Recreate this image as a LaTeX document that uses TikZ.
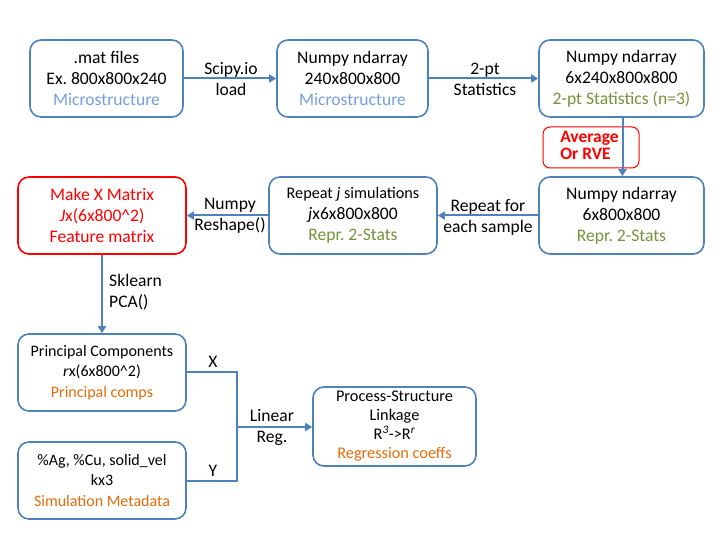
\documentclass[tikz,border=0pt]{standalone}
\usepackage{fontspec}
\setmainfont{Carlito}
\usetikzlibrary{arrows.meta}
\definecolor{bblue}{RGB}{79,129,189}
\definecolor{lblue}{RGB}{118,158,222}
\definecolor{ogreen}{RGB}{118,146,60}
\definecolor{orng}{RGB}{228,108,10}
\definecolor{rred}{RGB}{255,0,0}
\frenchspacing
\tikzset{
  box/.style={draw=bblue, line width=1.6pt, rounded corners=11pt, align=center,
    minimum height=77pt, inner sep=2pt, font=\fontsize{17.6}{21}\selectfont, text=black},
  sbox/.style={box, font=\fontsize{15.5}{20}\selectfont},
  redbox/.style={box, draw=rred, text=rred},
  avgbox/.style={draw=rred, line width=1pt, rounded corners=7pt, align=left,
    minimum width=96pt, minimum height=41pt, text=rred, inner sep=0pt,
    font=\bfseries\fontsize{17.5}{20}\selectfont},
  conn/.style={draw=bblue, line width=2pt, -{Triangle[length=7pt,width=8pt]}},
  plain/.style={draw=bblue, line width=2pt},
  lab/.style={align=center, font=\fontsize{17.6}{21}\selectfont, inner sep=0pt},
}
\begin{document}
\begin{tikzpicture}[x=1pt,y=-1pt]
\useasboundingbox (0,0) rectangle (720,540);
\node[box, minimum width=153pt] (b1) at (106.5,78.5)
  {.mat files\\Ex. 800x800x240\\\textcolor{lblue}{Microstructure}};
\node[box, minimum width=151pt] (b2) at (352.5,78.5)
  {Numpy ndarray\\240x800x800\\\textcolor{lblue}{Microstructure}};
\node[box, minimum width=165pt] (b3) at (621.5,78.5)
  {Numpy ndarray\\6x240x800x800\\\textcolor{ogreen}{2-pt Statistics (n=3)}};
\node[avgbox] (avg) at (591,147.5) {\hspace*{15pt}\begin{tabular}{@{}l@{}}Average\\[-3pt]Or RVE\end{tabular}\hspace*{18pt}};
\node[box, minimum width=165pt] (b4) at (621.5,215.5)
  {Numpy ndarray\\6x800x800\\\textcolor{ogreen}{Repr. 2-Stats}};
\node[box, minimum width=168pt] (b5) at (353,215.5)
  {{\fontsize{16.2}{20}\selectfont Repeat \textit{j} simulations}\\\textit{j}x6x800x800\\\textcolor{ogreen}{Repr. 2-Stats}};
\node[redbox, minimum width=168pt] (b6) at (102,215.5)
  {Make X Matrix\\\textit{J}x(6x800\^{}2)\\Feature matrix};
\node[sbox, minimum width=168pt, font=\fontsize{16}{20.5}\selectfont] (b7) at (102,372.5)
  {Principal Components\\\textit{r}x(6x800\^{}2)\\\textcolor{orng}{Principal comps}};
\node[sbox, minimum width=168pt, font=\fontsize{16}{20.5}\selectfont] (b8) at (102,480.5)
  {\%Ag, \%Cu, solid\_vel\\kx3\\\textcolor{orng}{Simulation Metadata}};
\node[sbox, minimum width=163pt, minimum height=79pt, font=\fontsize{16.3}{19}\selectfont] (b9) at (394.5,426.5)
  {Process-Structure\\Linkage\\R\textsuperscript{\textit{3}}->R\textsuperscript{\textit{r}}\\\textcolor{orng}{Regression coeffs}};

\draw[conn] (b1.east) -- (b2.west);
\node[lab] (l1) at (231,79) {Scipy.io\\load};
\draw[conn] (b2.east) -- (b3.west);
\node[lab] (l2) at (485,79) {2-pt\\Statistics};
\draw[conn] (b3.south -| avg.east) ++(-17pt,0) coordinate (c3) -- (c3 |- b4.north);
\draw[conn] (b4.west) -- (b5.east);
\node[lab] (l3) at (488,217) {Repeat for\\each sample};
\draw[conn] (b5.west) -- (b6.west -| b6.east);
\node[lab] (l4) at (230,216) {Numpy\\Reshape()};
\draw[conn] (b6.south) -- (b7.north);
\node[lab, align=left, anchor=west] (l5) at (109,292) {Sklearn\\PCA()};
\coordinate (j1) at (237,372);
\coordinate (j2) at (237,481);
\coordinate (jm) at (237,427);
\draw[plain] (b7.east |- j1) -- (j1) -- (j2) -- (b8.east |- j2);
\draw[conn] (jm) -- (b9.west |- jm);
\node[lab] (lx) at (213,362) {X};
\node[lab] (ly) at (213,471) {Y};
\node[lab] (l6) at (272,427) {Linear\\Reg.};
\end{tikzpicture}
\end{document}
